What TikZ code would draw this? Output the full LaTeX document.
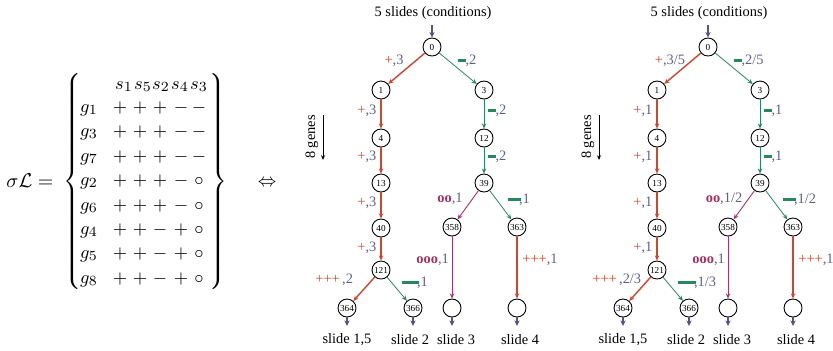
\documentclass[tikz,border=0pt]{standalone}
\usepackage{fontspec}
\setmainfont{Liberation Serif}
\usetikzlibrary{arrows.meta}
\definecolor{cred}{RGB}{205,70,45}
\definecolor{cgreen}{RGB}{40,135,95}
\definecolor{cmag}{RGB}{170,50,110}
\definecolor{cnum}{RGB}{95,95,145}
\definecolor{carr}{RGB}{90,80,130}
\definecolor{cooo}{RGB}{165,45,95}
\newcommand\lf{\fontsize{7.2}{8}\selectfont}
\newcommand\pl[1]{\textcolor{cred}{#1}}
\newcommand\nm[1]{\textcolor{cnum}{#1}}
\newcommand\mi[1]{\textcolor{cgreen}{\rule[1.5pt]{#1}{1.15pt}}}
\newcommand\oo[1]{\textcolor{cooo}{\textbf{#1}}}
\tikzset{
 tn/.style={circle,draw=black,line width=0.45pt,fill=white,minimum size=9pt,inner sep=0pt,font=\fontsize{4.6}{5}\selectfont},
 redge/.style={draw=cred,line width=0.7pt,-{Stealth[length=2.6pt,width=2.2pt]}},
 gedge/.style={draw=cgreen,line width=0.4pt,-{Stealth[length=2.6pt,width=2.2pt]}},
 medge/.style={draw=cmag,line width=0.45pt,-{Stealth[length=2.6pt,width=2.2pt]}},
 smarr/.style={draw=carr,line width=0.6pt,-{Stealth[length=2.8pt,width=2.6pt]}},
 lab/.style={inner sep=0pt,font=\lf},
 txt/.style={inner sep=0pt,font=\lf},
 mth/.style={inner sep=0pt,font=\fontsize{9.3}{11}\selectfont},
}
\newcommand\mytree[2]{%
\begin{scope}[xshift=#2]
\node[txt] (#1title) at (433,13) {5 slides (conditions)};
\node[tn] (#1n0) at (432,47) {0};
\node[tn] (#1n1) at (381,90) {1};
\node[tn] (#1n3) at (484,90) {3};
\node[tn] (#1n4) at (381,138) {4};
\node[tn] (#1n12) at (484,138) {12};
\node[tn] (#1n13) at (381,183) {13};
\node[tn] (#1n39) at (484,183) {39};
\node[tn] (#1n40) at (381,228) {40};
\node[tn] (#1n358) at (452,227) {358};
\node[tn] (#1n363) at (517,227) {363};
\node[tn] (#1n121) at (381,270) {121};
\node[tn] (#1n364) at (347,308) {364};
\node[tn] (#1n366) at (413,308) {366};
\node[tn] (#1e3) at (452,308) {};
\node[tn] (#1e4) at (517,308) {};
\coordinate (#1top) at (432,25);
\draw[smarr] (#1top) -- (#1n0);
\draw[redge] (#1n0) -- (#1n1);
\draw[gedge] (#1n0) -- (#1n3);
\draw[redge] (#1n1) -- (#1n4);
\draw[gedge] (#1n3) -- (#1n12);
\draw[redge] (#1n4) -- (#1n13);
\draw[gedge] (#1n12) -- (#1n39);
\draw[redge] (#1n13) -- (#1n40);
\draw[redge] (#1n40) -- (#1n121);
\draw[medge] (#1n39) -- (#1n358);
\draw[gedge] (#1n39) -- (#1n363);
\draw[medge] (#1n358) -- (#1e3);
\draw[redge] (#1n363) -- (#1e4);
\draw[redge] (#1n121) -- (#1n364);
\draw[gedge] (#1n121) -- (#1n366);
\coordinate (#1b1) at (347,326);
\coordinate (#1b2) at (413,326);
\coordinate (#1b3) at (452,326);
\coordinate (#1b4) at (517,326);
\draw[smarr] (#1n364) -- (#1b1);
\draw[smarr] (#1n366) -- (#1b2);
\draw[smarr] (#1e3) -- (#1b3);
\draw[smarr] (#1e4) -- (#1b4);
\node[txt] (#1s1) at (347,340) {slide 1,5};
\node[txt] (#1s2) at (410,340) {slide 2};
\node[txt] (#1s3) at (456,340) {slide 3};
\node[txt] (#1s4) at (520,340) {slide 4};
\node[txt,rotate=90] (#1genes) at (312,137) {8 genes};
\coordinate (#1ga) at (323,115);
\coordinate (#1gb) at (323,160);
\draw[line width=0.5pt,-{Stealth[length=2.4pt,width=2pt]}] (#1ga) -- (#1gb);
\end{scope}}
\begin{document}
\begin{tikzpicture}[x=0.5pt,y=-0.5pt]
\useasboundingbox (0,0) rectangle (833,350);
% left matrix
\node[mth,font=\fontsize{9.6}{11}\selectfont,anchor=base] (sig) at (30,187.5) {$\sigma\mathcal{L}=$};
\node[mth] (lb) at (72,181) {$\nulldelimiterspace=0pt\delimiterfactor=1000\delimitershortfall=0pt\left\{\vcenter{\hbox{\rule{0pt}{106pt}}}\right.$};
\node[mth] (rb) at (218,181) {$\nulldelimiterspace=0pt\delimiterfactor=1000\delimitershortfall=0pt\left.\vcenter{\hbox{\rule{0pt}{106pt}}}\right\}$};
\foreach \x/\s in {124/1,143/5,161/2,180/4,199/3}
  \node[mth,anchor=base] (h\s) at (\x,89) {$s_\s$};
\foreach \y/\g/\a/\b/\c/\d/\e in {108/1/+/+/+/-/-, 132/3/+/+/+/-/-, 157/7/+/+/+/-/-, 181/2/+/+/+/-/\circ, 206/6/+/+/+/-/\circ, 230/4/+/+/-/+/\circ, 254/5/+/+/-/+/\circ, 279/8/+/+/-/+/\circ}{
  \node[mth,anchor=base] (g\g) at (89,\y+4) {$g_\g$};
  \node[mth] (c\g a) at (120,\y) {$\a$};
  \node[mth] (c\g b) at (140,\y) {$\b$};
  \node[mth] (c\g c) at (160,\y) {$\c$};
  \node[mth] (c\g d) at (181,\y) {$\d$};
  \node[mth] (c\g e) at (199,\y) {$\e$};
}
\node[mth] (iff) at (267,183) {$\Leftrightarrow$};
% trees
\mytree{a}{0pt}
\mytree{b}{138pt}
% labels tree 1
\node[lab] (al01) at (394,61) {\pl{+}\nm{,3}};
\node[lab,anchor=west] (al03) at (458,61) {\mi{3.6pt}\nm{,2}};
\node[lab,anchor=west] (al14) at (357,111) {\pl{+}\nm{,3}};
\node[lab,anchor=west] (al413) at (357,157) {\pl{+}\nm{,3}};
\node[lab,anchor=west] (al1340) at (357,203) {\pl{+}\nm{,3}};
\node[lab,anchor=west] (al40121) at (357,248) {\pl{+}\nm{,3}};
\node[lab,anchor=west] (al312) at (488,111) {\mi{3.6pt}\nm{,2}};
\node[lab,anchor=west] (al1239) at (488,157) {\mi{3.6pt}\nm{,2}};
\node[lab] (al39358) at (450,199) {\oo{oo}\nm{,1}};
\node[lab,anchor=west] (al39363) at (508,200) {\mi{6.5pt}\kern-1.2pt\nm{,1}};
\node[lab,anchor=west] (al358e) at (416,260) {\oo{ooo}\nm{,1}};
\node[lab,anchor=west] (al363e) at (522,260) {\pl{+++}\nm{,1}};
\node[lab,anchor=west] (al121364) at (315,280) {\pl{+++}\nm{\,,2}};
\node[lab,anchor=west] (al121366) at (402,283) {\mi{8.5pt}\kern-1.2pt\nm{,1}};
% labels tree 2
\begin{scope}[xshift=138pt]
\node[lab] (bl01) at (394,61) {\pl{+}\nm{,3/5}};
\node[lab,anchor=west] (bl03) at (458,61) {\mi{3.6pt}\nm{,2/5}};
\node[lab,anchor=west] (bl14) at (357,111) {\pl{+}\nm{,1}};
\node[lab,anchor=west] (bl413) at (357,157) {\pl{+}\nm{,1}};
\node[lab,anchor=west] (bl1340) at (357,203) {\pl{+}\nm{,1}};
\node[lab,anchor=west] (bl40121) at (357,248) {\pl{+}\nm{,1}};
\node[lab,anchor=west] (bl312) at (488,111) {\mi{3.6pt}\nm{,1}};
\node[lab,anchor=west] (bl1239) at (488,157) {\mi{3.6pt}\nm{,1}};
\node[lab] (bl39358) at (448,199) {\oo{oo}\nm{,1/2}};
\node[lab,anchor=west] (bl39363) at (507,200) {\mi{6.5pt}\kern-1.2pt\nm{,1/2}};
\node[lab,anchor=west] (bl358e) at (416,260) {\oo{ooo}\nm{,1}};
\node[lab,anchor=west] (bl363e) at (522,260) {\pl{+++}\nm{,1}};
\node[lab,anchor=west] (bl121364) at (316,280) {\pl{+++}\nm{\,,2/3}};
\node[lab,anchor=west] (bl121366) at (402,283) {\mi{9pt}\kern-1.2pt\nm{,1/3}};
\end{scope}
\end{tikzpicture}
\end{document}
